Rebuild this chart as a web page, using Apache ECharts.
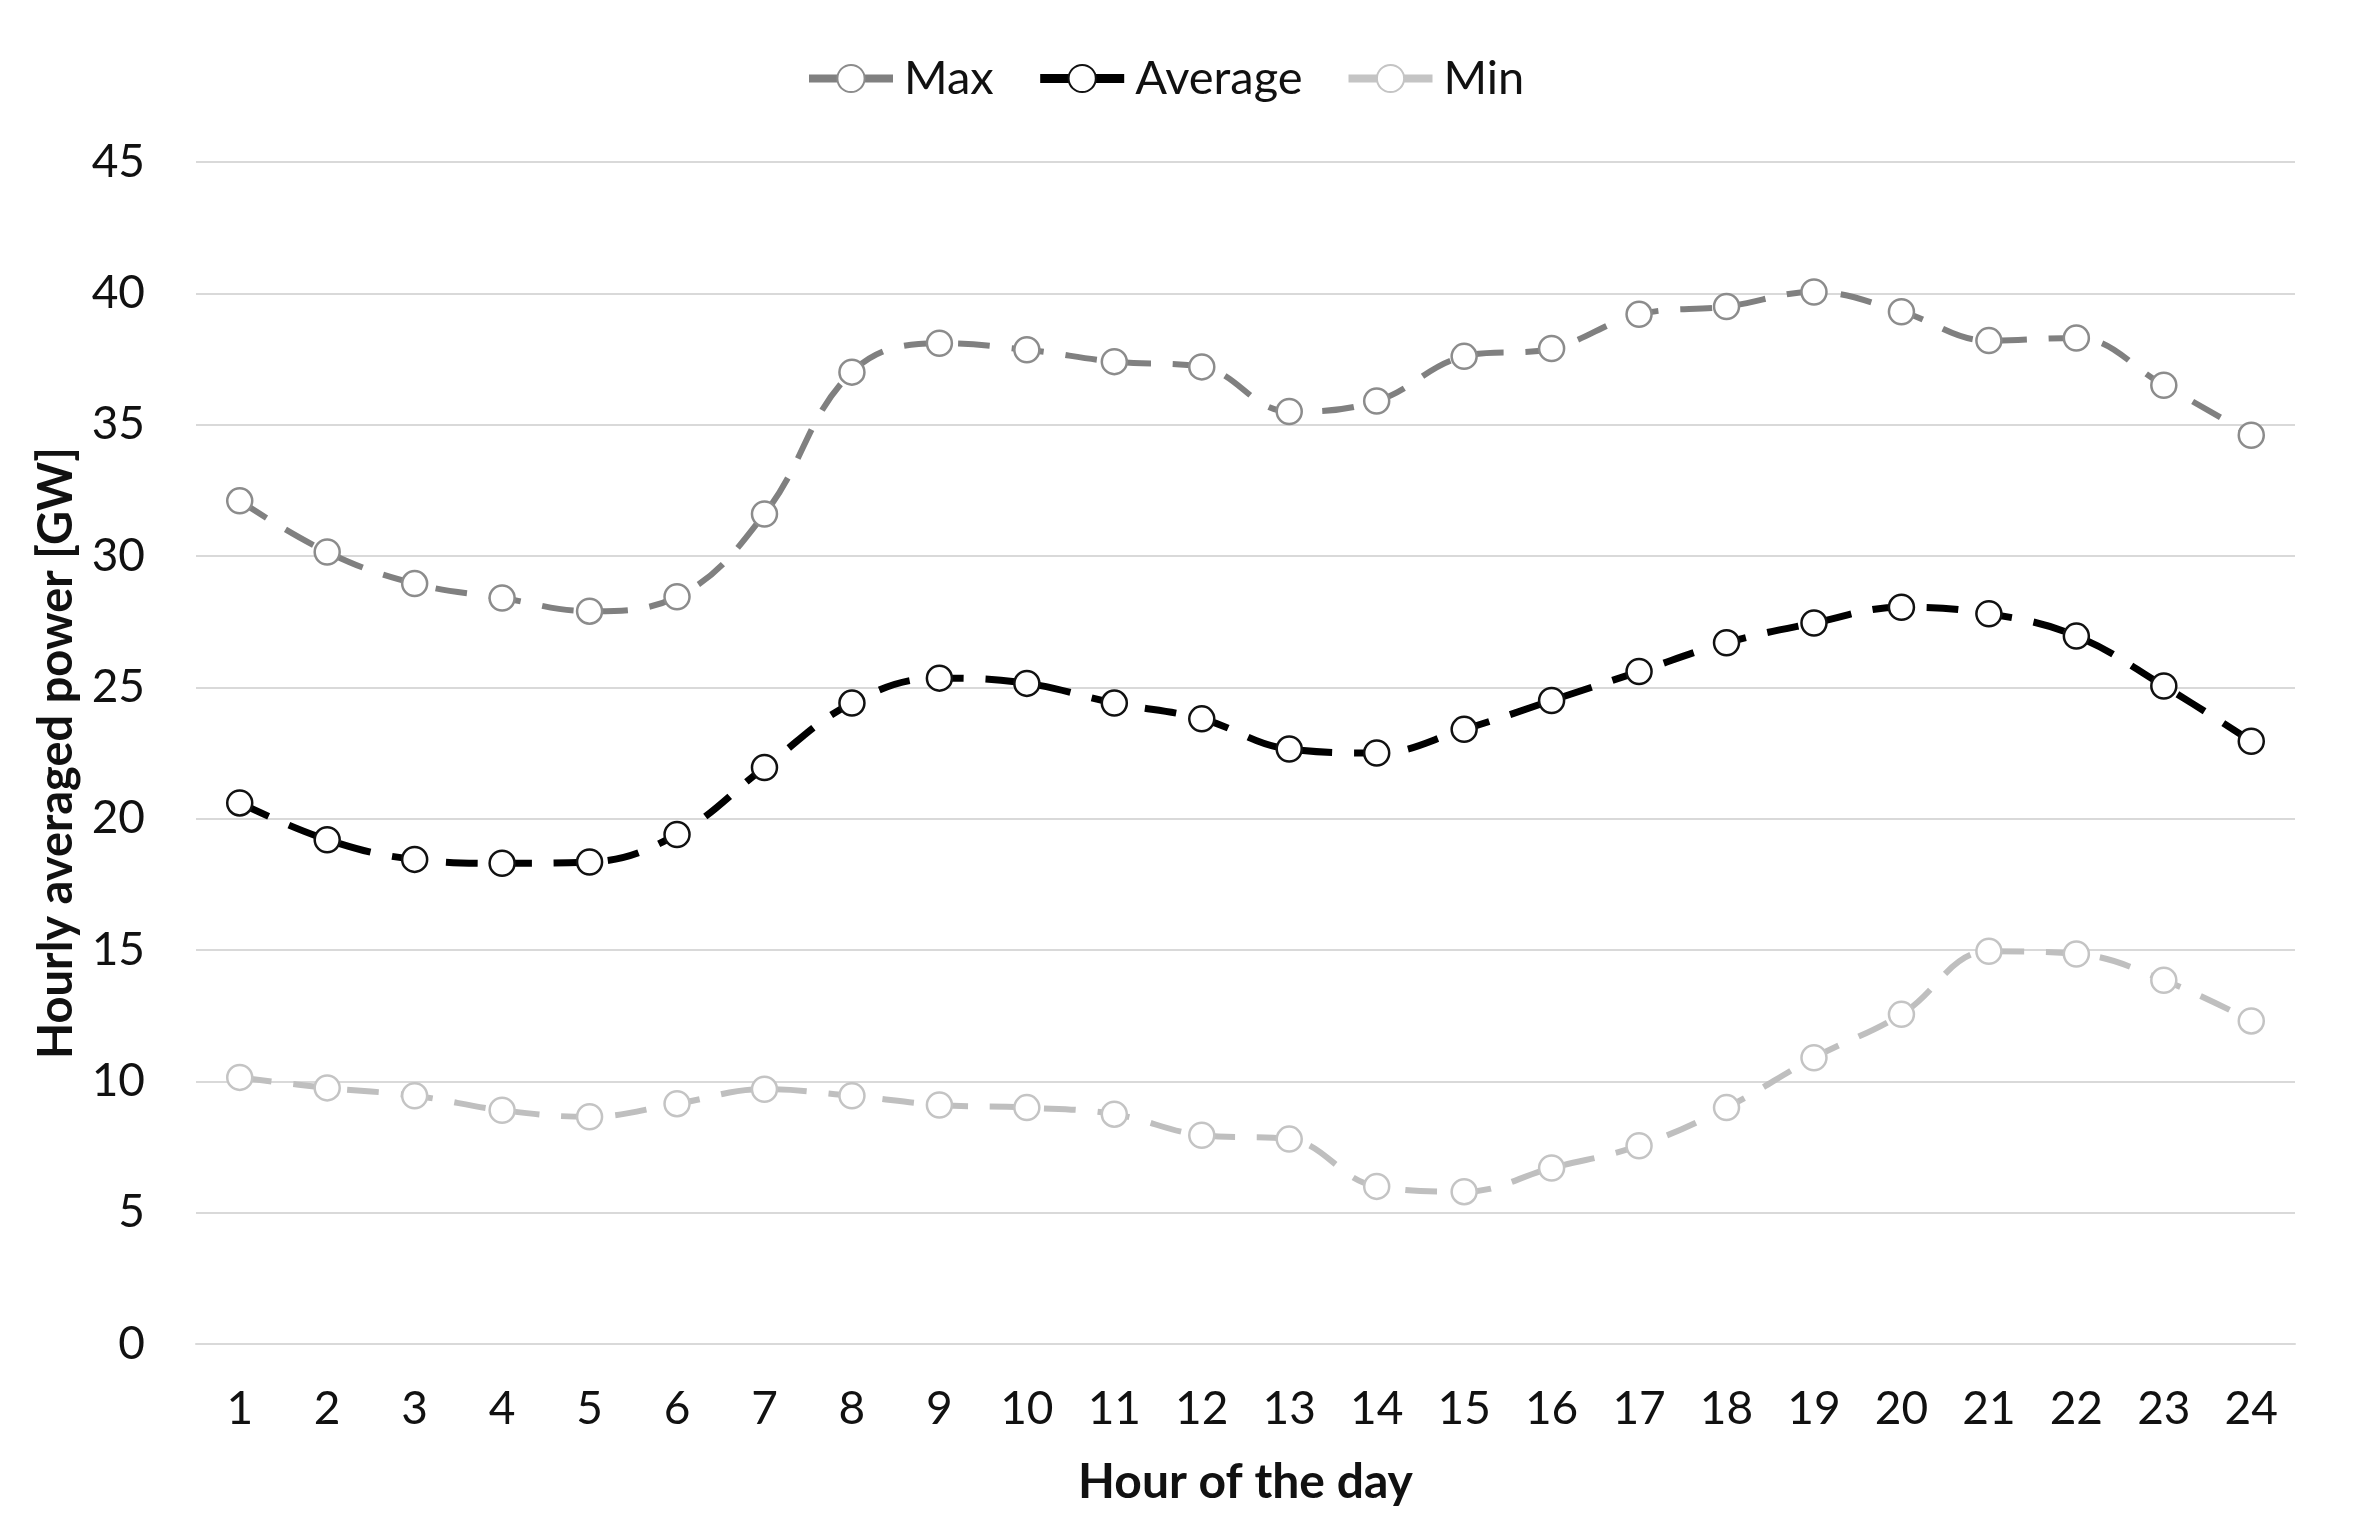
<!DOCTYPE html>
<html>
<head>
<meta charset="utf-8">
<script src="https://cdn.jsdelivr.net/npm/echarts@6/dist/echarts.min.js"></script>
<style>
html,body{margin:0;padding:0;background:#fff;}
#chart{width:2360px;height:1535px;}
</style>
</head>
<body>
<div id="chart"></div>
<script>
const hours = ['1','2','3','4','5','6','7','8','9','10','11','12','13','14','15','16','17','18','19','20','21','22','23','24'];
const maxValues = [32.1,30.15,28.95,28.4,27.9,28.45,31.6,37.0,38.1,37.85,37.4,37.2,35.5,35.9,37.6,37.9,39.2,39.5,40.05,39.3,38.2,38.3,36.5,34.6];
const avgValues = [20.6,19.2,18.45,18.3,18.35,19.4,21.95,24.4,25.35,25.15,24.4,23.8,22.65,22.5,23.4,24.5,25.6,26.7,27.45,28.05,27.8,26.95,25.05,22.95];
const minValues = [10.15,9.75,9.45,8.9,8.65,9.15,9.7,9.45,9.1,9.0,8.75,7.95,7.8,6.0,5.8,6.7,7.55,9.0,10.9,12.55,14.95,14.85,13.85,12.3];
const yTicks = {min:0, max:45, interval:5};

const FONT = 'Lato';
const chart = echarts.init(document.getElementById('chart'));

function lineSeries(name, data, color, width, markerBorder){
  return {
    name: name,
    type: 'line',
    data: data,
    smooth: 0.4,
    symbol: 'circle',
    symbolSize: 25,
    showAllSymbol: true,
    lineStyle: {color: color, width: width, type: [32, 22]},
    itemStyle: {color: '#ffffff', borderColor: markerBorder, borderWidth: 2.5},
    emphasis: {disabled: true},
    z: 3
  };
}

chart.setOption({
  animation: false,
  textStyle: {fontFamily: FONT},
  legend: {
    left: 800,
    top: 50,
    itemWidth: 84,
    itemHeight: 34,
    itemGap: 42,
    textStyle: {fontFamily: FONT, fontSize: 47, color: '#111', padding: [0, 0, 0, 6]},
    data: [
      {name: 'Max', lineStyle: {type: 'solid', width: 8, color: '#808080'}},
      {name: 'Average', lineStyle: {type: 'solid', width: 9, color: '#000000'}},
      {name: 'Min', lineStyle: {type: 'solid', width: 8, color: '#c4c4c4'}}
    ]
  },
  grid: {left: 196, right: 65, top: 162, bottom: 191, containLabel: false},
  xAxis: {
    type: 'category',
    data: hours,
    boundaryGap: true,
    axisLine: {show: true, lineStyle: {color: '#d9d9d9', width: 2}},
    axisTick: {show: false},
    axisLabel: {fontFamily: FONT, fontSize: 46, color: '#111', margin: 42, interval: 0},
    name: 'Hour of the day',
    nameLocation: 'middle',
    nameGap: 115,
    nameTextStyle: {fontFamily: FONT, fontSize: 48, fontWeight: 'bold', color: '#111'}
  },
  yAxis: {
    type: 'value',
    min: yTicks.min,
    max: yTicks.max,
    interval: yTicks.interval,
    axisLine: {show: false},
    axisTick: {show: false},
    splitLine: {lineStyle: {color: '#d9d9d9', width: 2}},
    axisLabel: {fontFamily: FONT, fontSize: 46, color: '#111', margin: 51},
    name: 'Hourly averaged power [GW]',
    nameLocation: 'middle',
    nameGap: 112,
    nameTextStyle: {fontFamily: FONT, fontSize: 47, fontWeight: 'bold', color: '#111'}
  },
  series: [
    lineSeries('Max', maxValues, '#808080', 6, '#8c8c8c'),
    lineSeries('Average', avgValues, '#000000', 7, '#111111'),
    lineSeries('Min', minValues, '#bfbfbf', 6, '#c4c4c4')
  ]
});
</script>
</body>
</html>
